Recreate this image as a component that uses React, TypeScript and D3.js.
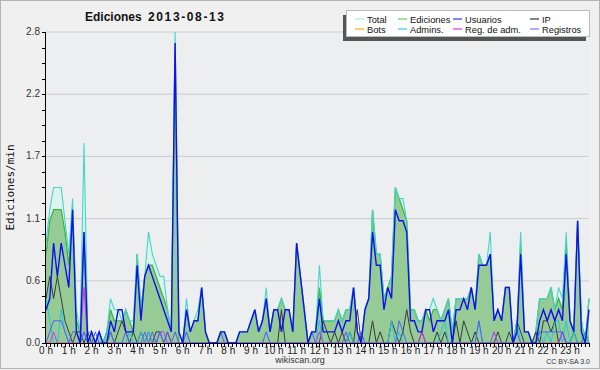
import React from 'react';
import * as d3 from 'd3';

// 10-minute slots, values in edits/min
const total = [
  0.9, 1.2, 1.4, 1.4, 1.4, 1.1,
  0.8, 1.3, 0.3, 0.1, 1.8, 0.1,
  0.1, 0.0, 0.1, 0.0, 0.1, 0.4,
  0.3, 0.3, 0.2, 0.3, 0.2, 0.2,
  0.8, 0.3, 0.6, 1.0, 0.8, 0.7,
  0.6, 0.6, 0.3, 0.1, 2.8, 0.1,
  0.0, 0.4, 0.1, 0.2, 0.3, 0.5,
  0.1, 0.0, 0.0, 0.0, 0.1, 0.1,
  0.0, 0.0, 0.0, 0.1, 0.1, 0.1,
  0.2, 0.3, 0.1, 0.2, 0.5, 0.1,
  0.3, 0.3, 0.4, 0.3, 0.3, 0.1,
  0.9, 0.6, 0.3, 0.0, 0.1, 0.1,
  0.7, 0.2, 0.2, 0.2, 0.2, 0.3,
  0.2, 0.3, 0.3, 0.5, 0.1, 0.0,
  0.3, 0.4, 1.2, 0.8, 0.8, 0.4,
  0.5, 0.6, 1.4, 1.3, 1.3, 1.1,
  0.3, 0.3, 0.2, 0.2, 0.3, 0.3,
  0.4, 0.3, 0.2, 0.3, 0.4, 0.1,
  0.4, 0.4, 0.4, 0.4, 0.5, 0.3,
  0.8, 0.7, 0.7, 1.0, 0.2, 0.3,
  0.2, 0.5, 0.5, 0.0, 0.1, 1.0,
  0.1, 0.1, 0.0, 0.1, 0.4, 0.4,
  0.4, 0.5, 0.3, 0.5, 0.4, 1.0,
  0.2, 0.1, 1.1, 0.2, 0.0, 0.4,
];

const ediciones = [
  0.8, 1.1, 1.2, 1.2, 1.2, 1.0,
  0.7, 1.2, 0.2, 0.1, 1.0, 0.0,
  0.1, 0.0, 0.1, 0.0, 0.1, 0.3,
  0.2, 0.2, 0.2, 0.3, 0.2, 0.1,
  0.8, 0.3, 0.6, 0.7, 0.7, 0.6,
  0.5, 0.4, 0.3, 0.1, 2.7, 0.0,
  0.0, 0.3, 0.1, 0.2, 0.2, 0.5,
  0.1, 0.0, 0.0, 0.0, 0.1, 0.1,
  0.0, 0.0, 0.0, 0.1, 0.1, 0.1,
  0.2, 0.3, 0.1, 0.2, 0.4, 0.1,
  0.3, 0.3, 0.4, 0.3, 0.3, 0.1,
  0.9, 0.6, 0.3, 0.0, 0.1, 0.1,
  0.5, 0.2, 0.2, 0.2, 0.2, 0.3,
  0.2, 0.3, 0.3, 0.5, 0.1, 0.0,
  0.3, 0.4, 1.2, 0.8, 0.8, 0.4,
  0.5, 0.6, 1.4, 1.3, 1.2, 1.1,
  0.3, 0.3, 0.2, 0.2, 0.3, 0.2,
  0.3, 0.3, 0.2, 0.3, 0.4, 0.1,
  0.4, 0.4, 0.4, 0.4, 0.5, 0.3,
  0.8, 0.7, 0.7, 0.8, 0.2, 0.3,
  0.2, 0.5, 0.5, 0.0, 0.1, 0.9,
  0.1, 0.1, 0.0, 0.1, 0.4, 0.4,
  0.4, 0.5, 0.3, 0.4, 0.3, 0.9,
  0.2, 0.1, 1.1, 0.2, 0.0, 0.4,
];

const usuarios = [
  0.3, 0.4, 0.9, 0.6, 0.9, 0.7,
  0.5, 1.2, 0.1, 0.0, 1.0, 0.0,
  0.1, 0.0, 0.1, 0.0, 0.0, 0.2,
  0.1, 0.3, 0.3, 0.1, 0.1, 0.1,
  0.7, 0.2, 0.6, 0.7, 0.6, 0.5,
  0.4, 0.3, 0.2, 0.1, 2.7, 0.1,
  0.0, 0.3, 0.1, 0.2, 0.2, 0.5,
  0.1, 0.0, 0.0, 0.0, 0.1, 0.1,
  0.0, 0.0, 0.0, 0.1, 0.1, 0.1,
  0.2, 0.3, 0.1, 0.2, 0.4, 0.1,
  0.3, 0.3, 0.1, 0.3, 0.3, 0.1,
  0.9, 0.6, 0.3, 0.0, 0.1, 0.1,
  0.4, 0.1, 0.1, 0.1, 0.1, 0.2,
  0.1, 0.2, 0.2, 0.5, 0.1, 0.0,
  0.3, 0.4, 1.0, 0.7, 0.7, 0.3,
  0.5, 0.4, 1.2, 1.1, 1.1, 1.0,
  0.2, 0.2, 0.1, 0.1, 0.3, 0.3,
  0.1, 0.2, 0.2, 0.2, 0.3, 0.0,
  0.3, 0.3, 0.4, 0.3, 0.5, 0.3,
  0.7, 0.7, 0.7, 0.8, 0.2, 0.3,
  0.2, 0.5, 0.5, 0.0, 0.1, 0.8,
  0.1, 0.1, 0.0, 0.0, 0.2, 0.3,
  0.2, 0.3, 0.2, 0.3, 0.2, 0.8,
  0.2, 0.1, 1.1, 0.1, 0.0, 0.3,
];

const ip = [
  0.4, 0.6, 0.4, 0.6, 0.4, 0.2,
  0.1, 0.0, 0.1, 0.1, 0.0, 0.1,
  0.0, 0.0, 0.0, 0.0, 0.0, 0.1,
  0.0, 0.1, 0.2, 0.1, 0.0, 0.1,
  0.0, 0.1, 0.0, 0.1, 0.0, 0.1,
  0.1, 0.0, 0.1, 0.0, 0.0, 0.0,
  0.0, 0.0, 0.0, 0.0, 0.0, 0.0,
  0.0, 0.0, 0.0, 0.0, 0.0, 0.0,
  0.0, 0.0, 0.0, 0.0, 0.0, 0.0,
  0.0, 0.0, 0.0, 0.0, 0.0, 0.0,
  0.0, 0.0, 0.3, 0.0, 0.0, 0.0,
  0.0, 0.0, 0.0, 0.0, 0.0, 0.0,
  0.0, 0.2, 0.1, 0.0, 0.1, 0.0,
  0.1, 0.0, 0.1, 0.0, 0.3, 0.0,
  0.0, 0.0, 0.2, 0.0, 0.1, 0.0,
  0.0, 0.2, 0.1, 0.0, 0.1, 0.3,
  0.1, 0.0, 0.0, 0.1, 0.0, 0.0,
  0.0, 0.1, 0.0, 0.1, 0.0, 0.0,
  0.2, 0.0, 0.2, 0.1, 0.0, 0.1,
  0.0, 0.0, 0.0, 0.0, 0.0, 0.1,
  0.0, 0.0, 0.1, 0.0, 0.2, 0.1,
  0.0, 0.0, 0.0, 0.1, 0.0, 0.2,
  0.2, 0.1, 0.2, 0.0, 0.1, 0.0,
  0.0, 0.1, 0.0, 0.0, 0.1, 0.0,
];

const admins = [
  0.4, 0.2, 0.0, 0.0, 0.3, 0.1,
  0.0, 0.0, 0.0, 0.0, 0.1, 0.0,
  0.0, 0.0, 0.0, 0.0, 0.1, 0.1,
  0.0, 0.0, 0.0, 0.0, 0.1, 0.0,
  0.0, 0.1, 0.0, 0.1, 0.0, 0.0,
  0.1, 0.0, 0.0, 0.0, 0.0, 0.0,
  0.0, 0.1, 0.0, 0.0, 0.0, 0.0,
  0.0, 0.0, 0.0, 0.0, 0.0, 0.0,
  0.0, 0.0, 0.0, 0.0, 0.0, 0.0,
  0.0, 0.0, 0.0, 0.0, 0.1, 0.0,
  0.0, 0.0, 0.0, 0.0, 0.0, 0.0,
  0.0, 0.0, 0.0, 0.0, 0.0, 0.0,
  0.2, 0.0, 0.0, 0.0, 0.0, 0.0,
  0.0, 0.0, 0.1, 0.0, 0.0, 0.0,
  0.0, 0.0, 0.0, 0.0, 0.0, 0.0,
  0.0, 0.2, 0.0, 0.1, 0.0, 0.0,
  0.0, 0.0, 0.0, 0.0, 0.0, 0.0,
  0.0, 0.0, 0.1, 0.2, 0.0, 0.0,
  0.0, 0.0, 0.0, 0.0, 0.0, 0.0,
  0.2, 0.0, 0.0, 0.0, 0.1, 0.0,
  0.0, 0.0, 0.0, 0.0, 0.2, 0.0,
  0.0, 0.0, 0.0, 0.0, 0.1, 0.0,
  0.1, 0.0, 0.2, 0.2, 0.0, 0.2,
  0.0, 0.1, 0.0, 0.0, 0.1, 0.0,
];

const registros = [
  0.0, 0.1, 0.2, 0.2, 0.2, 0.1,
  0.0, 0.1, 0.1, 0.0, 0.1, 0.0,
  0.0, 0.1, 0.0, 0.0, 0.0, 0.1,
  0.0, 0.0, 0.0, 0.1, 0.0, 0.0,
  0.0, 0.0, 0.1, 0.0, 0.1, 0.0,
  0.1, 0.0, 0.1, 0.0, 0.1, 0.0,
  0.0, 0.1, 0.0, 0.0, 0.0, 0.0,
  0.0, 0.0, 0.0, 0.0, 0.1, 0.0,
  0.0, 0.0, 0.0, 0.0, 0.0, 0.0,
  0.0, 0.0, 0.0, 0.0, 0.1, 0.0,
  0.0, 0.0, 0.0, 0.0, 0.0, 0.0,
  0.0, 0.0, 0.0, 0.0, 0.1, 0.0,
  0.0, 0.0, 0.0, 0.0, 0.0, 0.0,
  0.0, 0.1, 0.0, 0.0, 0.0, 0.1,
  0.0, 0.0, 0.0, 0.0, 0.0, 0.0,
  0.0, 0.0, 0.0, 0.2, 0.1, 0.0,
  0.0, 0.0, 0.0, 0.0, 0.0, 0.0,
  0.0, 0.0, 0.0, 0.0, 0.0, 0.0,
  0.0, 0.0, 0.0, 0.0, 0.0, 0.0,
  0.2, 0.0, 0.0, 0.0, 0.0, 0.0,
  0.0, 0.0, 0.0, 0.0, 0.1, 0.0,
  0.0, 0.0, 0.0, 0.0, 0.1, 0.1,
  0.1, 0.1, 0.1, 0.1, 0.1, 0.0,
  0.0, 0.0, 0.0, 0.0, 0.0, 0.0,
];

const regAdm = [
  0.0, 0.0, 0.1, 0.0, 0.0, 0.0,
  0.0, 0.0, 0.0, 0.0, 0.5, 0.0,
  0.0, 0.0, 0.0, 0.0, 0.0, 0.0,
  0.0, 0.0, 0.0, 0.0, 0.0, 0.0,
  0.0, 0.0, 0.0, 0.0, 0.0, 0.0,
  0.1, 0.1, 0.0, 0.0, 0.0, 0.0,
  0.0, 0.0, 0.0, 0.0, 0.0, 0.0,
  0.0, 0.0, 0.0, 0.0, 0.0, 0.0,
  0.0, 0.0, 0.0, 0.0, 0.0, 0.0,
  0.0, 0.0, 0.0, 0.0, 0.0, 0.0,
  0.0, 0.0, 0.0, 0.0, 0.0, 0.0,
  0.0, 0.0, 0.0, 0.0, 0.0, 0.0,
  0.1, 0.0, 0.0, 0.0, 0.0, 0.0,
  0.0, 0.0, 0.0, 0.0, 0.0, 0.0,
  0.0, 0.0, 0.0, 0.0, 0.0, 0.0,
  0.0, 0.0, 0.0, 0.0, 0.0, 0.0,
  0.0, 0.0, 0.0, 0.1, 0.0, 0.0,
  0.0, 0.0, 0.0, 0.0, 0.0, 0.0,
  0.0, 0.0, 0.0, 0.0, 0.0, 0.0,
  0.0, 0.0, 0.0, 0.0, 0.1, 0.0,
  0.0, 0.0, 0.0, 0.0, 0.0, 0.0,
  0.0, 0.0, 0.0, 0.0, 0.0, 0.0,
  0.0, 0.0, 0.0, 0.0, 0.1, 0.0,
  0.0, 0.0, 0.0, 0.0, 0.0, 0.0,
];

const bots = total.map(() => 0);

const hourLabels = [
  '0 h', '1 h', '2 h', '3 h', '4 h', '5 h', '6 h', '7 h', '8 h', '9 h', '10 h', '11 h',
  '12 h', '13 h', '14 h', '15 h', '16 h', '17 h', '18 h', '19 h', '20 h', '21 h', '22 h', '23 h',
];
const yTicks = [0, 0.56, 1.12, 1.68, 2.24, 2.8];
const yTickLabels = ['0.0', '0.6', '1.1', '1.7', '2.2', '2.8'];

const titleMetric = 'Ediciones';
const titleDate = '2013-08-13';

const legendRows = [
  [
    { name: 'Total', color: '#a6ecec' },
    { name: 'Ediciones', color: '#66cc66' },
    { name: 'Usuarios', color: '#3333ff' },
    { name: 'IP', color: '#333333' },
  ],
  [
    { name: 'Bots', color: '#ffa31a' },
    { name: 'Admins.', color: '#33ccee' },
    { name: 'Reg. de adm.', color: '#dd33ee' },
    { name: 'Registros', color: '#7777ff' },
  ],
];
const legendCols = [355, 398, 453, 530];

const FONT = '"Liberation Sans", Arial, sans-serif';

export default function App() {
  const W = 600;
  const H = 370;
  const x0 = 46;
  const x1 = 589;
  const yTop = 32;
  const yBot = 343;

  const x = d3.scaleLinear().domain([0, total.length - 1]).range([x0, x1]);
  const y = d3.scaleLinear().domain([0, 2.8]).range([yBot, yTop]);

  const idx = d3.range(total.length);
  const line = (arr: number[]) =>
    d3.line<number>().x((i) => x(i)).y((i) => y(arr[i]))(idx) || '';
  const area = (arr: number[]) =>
    d3.area<number>().x((i) => x(i)).y0(yBot).y1((i) => y(arr[i]))(idx) || '';

  const minorY = d3.range(0, 2.8001, 0.14);
  const minorX = d3.range(0, total.length);
  const hourIdx = hourLabels.map((_, h) => h * 6);

  return (
    <svg
      width={W}
      height={H}
      style={{ position: 'absolute', left: 0, top: 0, display: 'block' }}
      fontFamily={FONT}
    >
      <rect x={0} y={0} width={W} height={H} fill="#f0f0f0" />
      <rect x={0.5} y={0.5} width={W - 1} height={H - 2} fill="none" stroke="#b4b4b4" />
      <rect x={x0} y={yTop} width={x1 - x0} height={yBot - yTop} fill="#eceef0" />

      {yTicks.map((t) => (
        <line key={'g' + t} x1={x0} x2={x1} y1={y(t)} y2={y(t)} stroke="#cccccc" strokeWidth={1} />
      ))}

      <path d={area(total)} fill="#dcf3ef" />
      <path d={area(ediciones)} fill="#96cb96" />
      <path d={line(ediciones)} fill="none" stroke="#3db83d" strokeWidth={1.3} />
      <path d={line(total)} fill="none" stroke="#44d6cc" strokeWidth={1.1} />

      <path d={line(bots)} fill="none" stroke="#ffa31a" strokeWidth={1} />
      <path d={line(ip)} fill="none" stroke="#3a3a3a" strokeWidth={1} />
      <path d={line(admins)} fill="none" stroke="#22c8e0" strokeWidth={1} />
      <path d={line(regAdm)} fill="none" stroke="#d633ee" strokeWidth={1} />
      <path d={line(registros)} fill="none" stroke="#5a5aff" strokeWidth={1} />
      <path d={line(usuarios)} fill="none" stroke="#1010ee" strokeWidth={1.4} />

      {/* Y axis */}
      <line x1={x0 - 0.5} x2={x0 - 0.5} y1={yTop} y2={yBot} stroke="#000" />
      {minorY.map((t, i) => (
        <line key={'my' + i} x1={x0 - 4} x2={x0} y1={Math.round(y(t)) + 0.5} y2={Math.round(y(t)) + 0.5} stroke="#000" />
      ))}
      {yTicks.map((t, i) => (
        <text key={'yl' + i} x={x0 - 6} y={y(t) + 3} fontSize={10} textAnchor="end" fill="#333">
          {yTickLabels[i]}
        </text>
      ))}

      {/* X axis */}
      <line x1={x0} x2={x1 + 1} y1={yBot + 0.5} y2={yBot + 0.5} stroke="#000" />
      {minorX.map((i) => (
        <line key={'mx' + i} x1={Math.round(x(i)) + 0.5} x2={Math.round(x(i)) + 0.5} y1={yBot} y2={yBot + 4} stroke="#000" />
      ))}
      {hourIdx.map((i, k) => (
        <text key={'xl' + k} x={x(i)} y={yBot + 11} fontSize={10} textAnchor="middle" fill="#222">
          {hourLabels[k]}
        </text>
      ))}

      <text
        transform={`translate(14, ${(yTop + yBot) / 2}) rotate(-90)`}
        fontSize={11}
        textAnchor="middle"
        fill="#111"
        fontFamily='"DejaVu Sans Mono", monospace'
      >
        Ediciones/min
      </text>

      <text x={85} y={21} fontSize={12} fontWeight="bold" fill="#111">
        {titleMetric}
      </text>
      <text x={148} y={21} fontSize={12} fontWeight="bold" fill="#111" textLength={76} lengthAdjust="spacing">
        {titleDate}
      </text>

      {/* Legend */}
      <rect x={343} y={15} width={243} height={26} fill="#555" />
      <rect x={346.5} y={10.5} width={243} height={26} fill="#fff" stroke="#bbb" />
      {legendRows.map((row, r) =>
        row.map((item, c) => (
          <g key={item.name}>
            <line
              x1={legendCols[c]}
              x2={legendCols[c] + 9}
              y1={19 + r * 10}
              y2={19 + r * 10}
              stroke={item.color}
              strokeWidth={1.2}
            />
            <text x={legendCols[c] + 12} y={22.5 + r * 10} fontSize={9.3} fill="#111">
              {item.name}
            </text>
          </g>
        ))
      )}

      <text x={300} y={363} fontSize={9} textAnchor="middle" fill="#333">
        wikiscan.org
      </text>
      <text x={590} y={364} fontSize={7} textAnchor="end" fill="#333">
        CC BY-SA 3.0
      </text>
    </svg>
  );
}
